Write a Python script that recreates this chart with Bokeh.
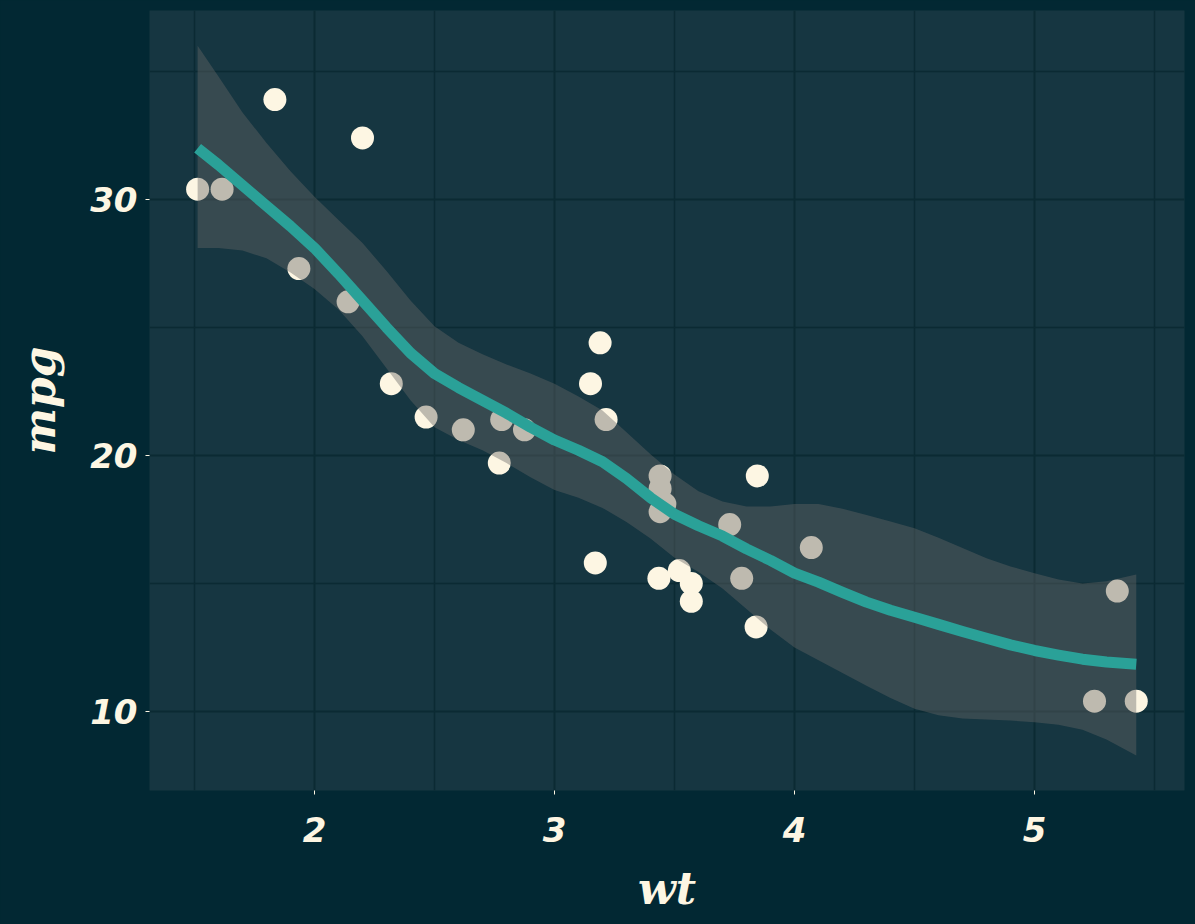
from bokeh.plotting import figure
from bokeh.models import FixedTicker, Range1d
from bokeh.embed import file_html
from bokeh.resources import INLINE

# mtcars: weight (1000 lbs) and miles per gallon
wt = [2.620, 2.875, 2.320, 3.215, 3.440, 3.460, 3.570, 3.190, 3.150, 3.440, 3.440,
      4.070, 3.730, 3.780, 5.250, 5.424, 5.345, 2.200, 1.615, 1.835, 2.465, 3.520,
      3.435, 3.840, 3.845, 1.935, 2.140, 1.513, 3.170, 2.770, 3.570, 2.780]
mpg = [21.0, 21.0, 22.8, 21.4, 18.7, 18.1, 14.3, 24.4, 22.8, 19.2, 17.8,
       16.4, 17.3, 15.2, 10.4, 10.4, 14.7, 32.4, 30.4, 33.9, 21.5, 15.5,
       15.2, 13.3, 19.2, 27.3, 26.0, 30.4, 15.8, 19.7, 15.0, 21.4]

# smoother (fit and confidence band)
fit_wt = [1.513, 1.6, 1.7, 1.8, 1.9, 2.0, 2.1, 2.2, 2.3, 2.4, 2.5, 2.6, 2.7, 2.8, 2.9,
          3.0, 3.1, 3.2, 3.3, 3.4, 3.5, 3.6, 3.7, 3.8, 3.9, 4.0, 4.1, 4.2, 4.3, 4.4,
          4.5, 4.6, 4.7, 4.8, 4.9, 5.0, 5.1, 5.2, 5.3, 5.424]
fit_mpg = [32.0, 31.35, 30.55, 29.75, 28.95, 28.1, 27.1, 26.05, 25.0, 24.0, 23.2, 22.65,
           22.15, 21.65, 21.1, 20.6, 20.2, 19.75, 19.1, 18.35, 17.7, 17.25, 16.85, 16.35,
           15.9, 15.4, 15.05, 14.65, 14.27, 13.95, 13.68, 13.4, 13.12, 12.86, 12.6, 12.38,
           12.2, 12.04, 11.93, 11.84]
fit_upper = [36.0, 34.8, 33.4, 32.2, 31.1, 30.1, 29.2, 28.3, 27.2, 26.05, 25.05, 24.4,
             23.95, 23.55, 23.2, 22.8, 22.3, 21.75, 20.9, 20.05, 19.25, 18.6, 18.2, 18.0,
             18.0, 18.1, 18.1, 17.92, 17.67, 17.42, 17.15, 16.78, 16.38, 15.98, 15.66, 15.4,
             15.15, 15.0, 15.08, 15.35]
fit_lower = [28.1, 28.1, 28.0, 27.7, 27.15, 26.5, 25.7, 24.65, 23.4, 22.15, 21.1, 20.6,
             20.2, 19.7, 19.15, 18.65, 18.35, 17.95, 17.4, 16.75, 16.0, 15.45, 14.8, 14.0,
             13.2, 12.5, 12.0, 11.5, 11.0, 10.52, 10.1, 9.85, 9.72, 9.68, 9.64, 9.58,
             9.48, 9.28, 8.9, 8.28]

x_ticks = [2, 3, 4, 5]
x_minor = [1.5, 2.5, 3.5, 4.5, 5.5]
y_ticks = [10, 20, 30]
y_minor = [15, 25, 35]

OUTER = "#022833"
PANEL = "#163641"
GRID = "#0b2a33"
CREAM = "#FDF6E3"
TEAL = "#2AA198"

p = figure(output_backend="svg", toolbar_location=None,
           frame_width=1035, frame_height=780,
           x_range=Range1d(1.3125, 5.625), y_range=Range1d(6.91, 37.38),
           min_border_left=149, min_border_right=11, min_border_top=10, min_border_bottom=134)

p.background_fill_color = PANEL
p.border_fill_color = OUTER
p.outline_line_color = None

p.scatter(wt, mpg, size=23, fill_color=CREAM, line_color=None)
p.varea(x=fit_wt, y1=fit_lower, y2=fit_upper, fill_color="#666666", fill_alpha=0.42)
p.line(fit_wt, fit_mpg, line_color=TEAL, line_width=11, line_join="round")

p.xaxis.ticker = FixedTicker(ticks=x_ticks, minor_ticks=x_minor)
p.yaxis.ticker = FixedTicker(ticks=y_ticks, minor_ticks=y_minor)

for g in (p.xgrid, p.ygrid):
    g.grid_line_color = GRID
    g.grid_line_width = 2
    g.minor_grid_line_color = GRID
    g.minor_grid_line_width = 1.5

for ax in (p.xaxis, p.yaxis):
    ax.axis_line_color = None
    ax.major_tick_line_color = CREAM
    ax.major_tick_line_width = 1
    ax.major_tick_out = 4
    ax.major_tick_in = 0
    ax.minor_tick_line_color = None
    ax.major_label_text_color = CREAM
    ax.major_label_text_font = "DejaVu Sans"
    ax.major_label_text_font_style = "bold italic"
    ax.major_label_text_font_size = "34px"
    ax.axis_label_text_color = CREAM
    ax.axis_label_text_font = "DejaVu Serif"
    ax.axis_label_text_font_style = "bold italic"
    ax.axis_label_text_font_size = "44px"

p.xaxis.axis_label = "wt"
p.yaxis.axis_label = "mpg"
p.xaxis.major_label_standoff = 22
p.yaxis.major_label_standoff = 8
p.xaxis.axis_label_standoff = 18
p.yaxis.axis_label_standoff = 22

html = file_html(p, INLINE)
html = html.replace("<body>", '<body style="background:%s;margin:0;overflow:hidden;">' % OUTER)
open("out.html", "w").write(html)
